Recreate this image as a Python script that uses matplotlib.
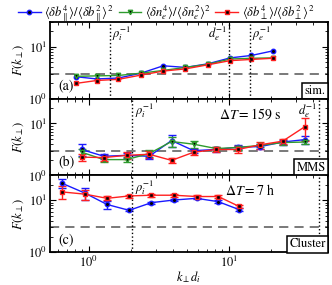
import matplotlib
matplotlib.use('Agg')
import matplotlib.pyplot as plt
from matplotlib.lines import Line2D

plt.rcParams['font.family'] = 'STIXGeneral'
plt.rcParams['mathtext.fontset'] = 'stix'
plt.rcParams['font.size'] = 9

# panel (a): simulation
k_sim = [0.81, 1.14, 1.63, 2.36, 3.4, 4.9, 7.1, 10.2, 14.5, 20.5]
sim_bpar = [2.65, 2.4, 2.5, 3.1, 4.3, 4.0, 4.7, 6.1, 6.8, 8.3]
sim_ne = [2.7, 2.75, 2.8, 3.1, 3.5, 4.0, 4.6, 5.8, 6.0, 6.1]
sim_bperp = [1.97, 2.24, 2.36, 2.85, 3.4, 3.75, 4.5, 5.4, 5.7, 6.0]

# panel (b): MMS
k_mms = [0.89, 1.28, 1.86, 2.7, 3.9, 5.6, 8.1, 11.6, 16.8, 24.2, 34.9]
mms_bpar = [3.16, 2.34, 2.44, 2.34, 4.7, 3.0, 3.16, 3.5, 3.6, 4.4, 4.9]
mms_bpar_err = [0.8, 0.3, 0.3, 0.3, 1.2, 0.3, 0.3, 0.3, 0.4, 0.5, 0.8]
mms_ne = [2.8, 2.02, 2.02, 2.64, 4.5, 4.0, 3.3, 3.45, 3.8, 4.3, 4.4]
mms_ne_err = [0.5, 0.2, 0.2, 0.4, 0.9, 0.6, 0.3, 0.3, 0.3, 0.4, 0.4]
mms_bperp = [2.25, 2.21, 2.44, 2.56, 1.95, 2.8, 3.16, 3.16, 3.9, 4.57, 8.7]
mms_bperp_err = [0.35, 0.3, 0.35, 0.4, 0.2, 0.3, 0.35, 0.5, 0.6, 0.5, 4.0]

# panel (c): Cluster
k_cl = [0.64, 0.94, 1.35, 1.94, 2.8, 4.05, 5.88, 8.4, 11.85]
cl_bpar = [21.4, 13.7, 8.3, 6.4, 9.0, 10.1, 10.9, 9.4, 6.6]
cl_bpar_err = [4.0, 3.5, 1.5, 0.3, 0.4, 0.4, 0.4, 0.5, 0.5]
cl_bperp = [14.5, 13.1, 10.9, 12.1, 12.5, 12.5, 11.8, 11.8, 7.6]
cl_bperp_err = [4.0, 3.0, 1.0, 0.8, 0.8, 0.8, 0.7, 0.7, 0.6]

blue, green, red = '#1a1aff', '#2e9b2e', '#ff2020'
mk = dict(ms=3.2, mfc='k', mew=1.0, lw=1.0)

fig, axes = plt.subplots(3, 1, figsize=(3.32, 2.85), dpi=100, sharex=True)
fig.subplots_adjust(left=0.151, right=0.988, top=0.923, bottom=0.115, hspace=0)
ax_a, ax_b, ax_c = axes

ax_a.plot(k_sim, sim_bpar, '-o', color=blue, mec=blue, **mk)
ax_a.plot(k_sim, sim_ne, '-v', color=green, mec=green, **mk)
ax_a.plot(k_sim, sim_bperp, '-s', color=red, mec=red, **mk)

ax_b.errorbar(k_mms, mms_bpar, yerr=mms_bpar_err, fmt='-o', color=blue, mec=blue, capsize=3, elinewidth=1, **mk)
ax_b.errorbar(k_mms, mms_ne, yerr=mms_ne_err, fmt='-v', color=green, mec=green, capsize=3, elinewidth=1, **mk)
ax_b.errorbar(k_mms, mms_bperp, yerr=mms_bperp_err, fmt='-s', color=red, mec=red, capsize=3, elinewidth=1, **mk)

ax_c.errorbar(k_cl, cl_bpar, yerr=cl_bpar_err, fmt='-o', color=blue, mec=blue, capsize=3, elinewidth=1, **mk)
ax_c.errorbar(k_cl, cl_bperp, yerr=cl_bperp_err, fmt='-s', color=red, mec=red, capsize=3, elinewidth=1, **mk)

# scale lines
def vline(ax, x, txt, side):
    ax.axvline(x, color='k', ls=':', lw=1)
    if txt:
        if side == 'r':
            ax.text(x * 1.04, 27, txt, ha='left', va='top')
        else:
            ax.text(x / 1.03, 27, txt, ha='right', va='top')

vline(ax_a, 1.41, r'$\rho_i^{-1}$', 'r')
vline(ax_a, 10.0, r'$d_e^{-1}$', 'l')
vline(ax_a, 14.1, r'$\rho_e^{-1}$', 'r')
vline(ax_b, 2.04, r'$\rho_i^{-1}$', 'r')
vline(ax_b, 44.0, r'$d_e^{-1}$', 'l')
vline(ax_c, 2.05, r'$\rho_i^{-1}$', 'r')
vline(ax_c, 44.0, None, 'l')

ax_b.text(0.72, 0.9, r'$\Delta T = 159$ s', transform=ax_b.transAxes, ha='center', va='top', fontsize=10)
ax_c.text(0.72, 0.9, r'$\Delta T = 7$ h', transform=ax_c.transAxes, ha='center', va='top', fontsize=10)

for ax, lab, src in zip(axes, ['(a)', '(b)', '(c)'], ['sim.', 'MMS', 'Cluster']):
    ax.axhline(3, color='#555555', ls=(0, (6, 4)), lw=1.1, zorder=0)
    ax.set_xscale('log')
    ax.set_yscale('log')
    ax.set_xlim(0.53, 51)
    ax.set_ylim(1, 30)
    ax.set_ylabel(r'$F(k_\perp)$', labelpad=2)
    ax.tick_params(which='both', direction='in', top=True, right=True, pad=2)
    ax.tick_params(which='major', length=4)
    ax.tick_params(which='minor', length=2)
    for s in ax.spines.values():
        s.set_linewidth(1.3)
    ax.text(0.03, 0.08, lab, transform=ax.transAxes, ha='left', va='bottom', fontsize=10)
    ax.text(0.992, 0.025, src, transform=ax.transAxes, ha='right', va='bottom', fontsize=9,
            bbox=dict(boxstyle='square,pad=0.2', fc='white', ec='k', lw=1.1))

ax_c.set_xlabel(r'$k_\perp d_i$', labelpad=-1)

handles = [Line2D([], [], color=blue, marker='o', mec=blue, **mk),
           Line2D([], [], color=green, marker='v', mec=green, **mk),
           Line2D([], [], color=red, marker='s', mec=red, **mk)]
labels = [r'$\langle\delta b_\parallel^4\rangle/\langle\delta b_\parallel^2\rangle^2$',
          r'$\langle\delta n_e^4\rangle/\langle\delta n_e^2\rangle^2$',
          r'$\langle\delta b_\perp^4\rangle/\langle\delta b_\perp^2\rangle^2$']
fig.legend(handles, labels, loc='upper center', bbox_to_anchor=(0.5, 1.01), ncol=3,
           frameon=False, handlelength=1.8, handletextpad=0.3, columnspacing=0.4,
           borderaxespad=0.1, fontsize=9)

fig.savefig('out.png', dpi=100)
